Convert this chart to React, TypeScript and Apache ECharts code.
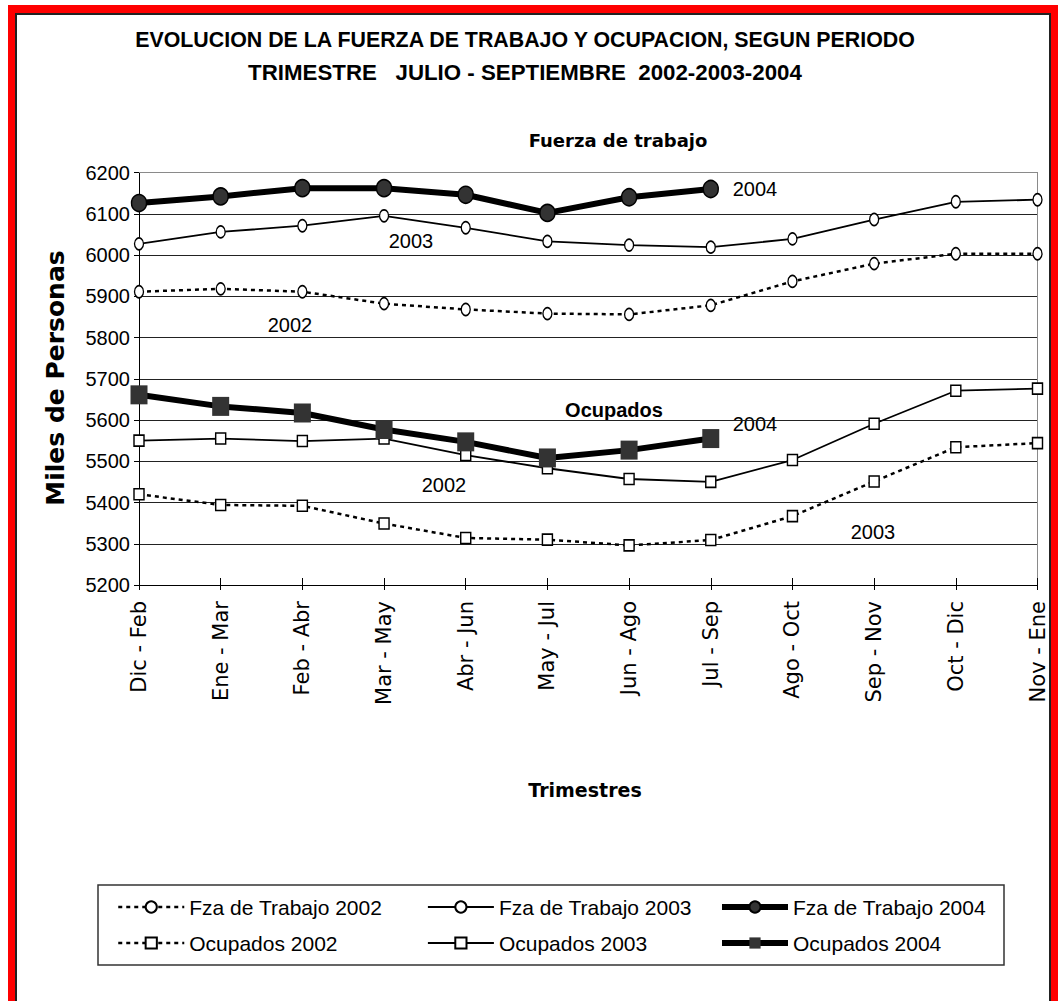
import React, { useEffect, useRef } from "react";
import * as echarts from "echarts";

const categories = [
  "Dic - Feb", "Ene - Mar", "Feb - Abr", "Mar - May", "Abr - Jun", "May - Jul",
  "Jun - Ago", "Jul - Sep", "Ago - Oct", "Sep - Nov", "Oct - Dic", "Nov - Ene",
];
const fza2002 = [5911, 5918, 5911, 5882, 5868, 5858, 5856, 5878, 5936, 5979, 6003, 6003];
const fza2003 = [6027, 6056, 6071, 6095, 6066, 6033, 6024, 6019, 6039, 6086, 6129, 6134];
const fza2004 = [6126, 6142, 6162, 6162, 6146, 6102, 6140, 6160];
const ocu2002 = [5420, 5394, 5392, 5349, 5314, 5310, 5296, 5309, 5367, 5451, 5534, 5544];
const ocu2003 = [5550, 5555, 5549, 5555, 5515, 5483, 5457, 5450, 5503, 5591, 5671, 5676];
const ocu2004 = [5661, 5633, 5617, 5577, 5547, 5508, 5527, 5555];
const yMin = 5200;
const yMax = 6200;
const yStep = 100;

const titleLine1 = "EVOLUCION DE LA FUERZA DE TRABAJO Y OCUPACION, SEGUN PERIODO";
const titleLine2 = "TRIMESTRE   JULIO - SEPTIEMBRE  2002-2003-2004";

const SANS = '"Liberation Sans", Arial, sans-serif';
const DEJAVU = '"DejaVu Sans", sans-serif';

function App() {
  const ref = useRef<HTMLDivElement>(null);

  useEffect(() => {
    if (!ref.current) return;
    const chart = echarts.init(ref.current, null, { renderer: "svg" });

    const whiteMarker = { color: "#ffffff", borderColor: "#000000", borderWidth: 1.5 };
    const dotted = { color: "#000000", width: 2.5, type: [4, 4] as any };
    const thin = { color: "#000000", width: 1.8, type: "solid" as any };
    const thick = { color: "#000000", width: 6, type: "solid" as any };

    const mk = (name: string, data: number[], symbol: string, size: any, line: any, item: any, z: number) => ({
      name,
      type: "line",
      data,
      xAxisIndex: 0,
      yAxisIndex: 0,
      symbol,
      symbolSize: size,
      showAllSymbol: true,
      lineStyle: line,
      itemStyle: item,
      z,
      emphasis: { disabled: true },
    });

    const legendCommon = {
      orient: "vertical",
      itemWidth: 66,
      itemHeight: 14,
      itemGap: 14,
      padding: 0,
      selectedMode: false,
      lineStyle: { width: "inherit", type: "inherit", color: "inherit" },
      textStyle: { fontSize: 21, fontFamily: SANS, color: "#000", lineHeight: 22 },
    };

    const annot = (text: string, x: number, y: number, font: string, extra: any = {}) => ({
      type: "text",
      x,
      y,
      ...extra,
      style: { text, font, fill: "#000", textAlign: "center", textVerticalAlign: "middle" },
    });

    chart.setOption({
      animation: false,
      backgroundColor: "transparent",
      grid: {
        left: 139,
        top: 172.5,
        width: 898.5,
        height: 412.5,
        containLabel: false,
        outerBoundsMode: "none",
      },
      xAxis: [
        {
          type: "category",
          data: categories,
          boundaryGap: false,
          position: "bottom",
          axisLine: { show: true, lineStyle: { color: "#000", width: 1 } },
          axisTick: { show: true, inside: false, length: 5, lineStyle: { color: "#000" } },
          axisLabel: {
            rotate: 90,
            margin: 16,
            fontSize: 21,
            fontFamily: DEJAVU,
            color: "#000",
            interval: 0,
          },
          splitLine: { show: false },
        },
        {
          type: "category",
          data: categories,
          boundaryGap: false,
          position: "bottom",
          axisLine: { show: false },
          axisTick: { show: true, inside: true, length: 7, lineStyle: { color: "#000" } },
          axisLabel: { show: false },
          splitLine: { show: false },
        },
        {
          type: "category",
          data: categories,
          boundaryGap: false,
          position: "top",
          axisLine: { show: true, lineStyle: { color: "#8a8a8a", width: 1 } },
          axisTick: { show: false },
          axisLabel: { show: false },
          splitLine: { show: false },
        },
      ],
      yAxis: [
        {
          type: "value",
          min: yMin,
          max: yMax,
          interval: yStep,
          axisLine: { show: true, lineStyle: { color: "#000", width: 1 } },
          axisTick: { show: true, inside: false, length: 5, lineStyle: { color: "#000" } },
          axisLabel: {
            fontSize: 20,
            fontFamily: SANS,
            color: "#000",
            margin: 9,
            formatter: (v: number) => String(v),
          },
          splitLine: { show: true, lineStyle: { color: "#222", width: 1 } },
        },
        {
          type: "value",
          min: yMin,
          max: yMax,
          interval: yStep,
          position: "right",
          axisLine: { show: true, lineStyle: { color: "#8a8a8a", width: 1 } },
          axisTick: { show: false },
          axisLabel: { show: false },
          splitLine: { show: false },
        },
      ],
      legend: [
        { ...legendCommon, left: 117, top: 896, data: ["Fza de Trabajo 2002", "Ocupados 2002"] },
        { ...legendCommon, left: 427, top: 896, data: ["Fza de Trabajo 2003", "Ocupados 2003"] },
        { ...legendCommon, left: 719, top: 896, data: ["Fza de Trabajo 2004", "Ocupados 2004"] },
      ],
      series: [
        mk("Fza de Trabajo 2002", fza2002, "circle", [9, 12], dotted, whiteMarker, 3),
        mk("Fza de Trabajo 2003", fza2003, "circle", [9, 12], thin, whiteMarker, 4),
        mk("Fza de Trabajo 2004", fza2004, "circle", [15, 17], thick, { color: "#333333", borderColor: "#000", borderWidth: 1.5 }, 5),
        mk("Ocupados 2002", ocu2002, "rect", [10, 11], dotted, whiteMarker, 3),
        mk("Ocupados 2003", ocu2003, "rect", [10, 11], thin, whiteMarker, 4),
        mk("Ocupados 2004", ocu2004, "rect", [17, 19], thick, { color: "#333333", borderColor: "#333333", borderWidth: 0 }, 5),
      ],
      graphic: [
        annot(titleLine1, 525, 39, `bold 23px ${SANS}`, { scaleX: 0.93 }),
        annot(titleLine2, 525, 72, `bold 23px ${SANS}`, { scaleX: 0.97 }),
        annot("Fuerza de trabajo", 618, 140, `bold 18px ${DEJAVU}`),
        annot("2004", 755, 189, `20px ${SANS}`),
        annot("2003", 411, 241, `20px ${SANS}`),
        annot("2002", 290, 325, `20px ${SANS}`),
        annot("Ocupados", 614, 410, `bold 20px ${SANS}`),
        annot("2004", 755, 424, `20px ${SANS}`),
        annot("2002", 444, 485, `20px ${SANS}`),
        annot("2003", 873, 532, `20px ${SANS}`),
        annot("Trimestres", 585, 790, `bold 19px ${DEJAVU}`),
        annot("Miles de Personas", 55, 378, `bold 25px ${DEJAVU}`, { rotation: Math.PI / 2 }),
        {
          type: "rect",
          shape: { x: 98, y: 885, width: 906, height: 80 },
          style: { fill: "none", stroke: "#333", lineWidth: 1.5 },
        },
      ],
    });

    return () => chart.dispose();
  }, []);

  return (
    <div style={{ position: "absolute", left: 0, top: 0, width: 1058, height: 1001, background: "#fff", overflow: "hidden" }}>
      <div style={{ position: "absolute", left: 8, top: 5, width: 1060, height: 1010, background: "#ff0000" }} />
      <div
        style={{
          position: "absolute",
          left: 15,
          top: 13,
          width: 1036,
          height: 1000,
          boxSizing: "border-box",
          border: "2px solid #222",
          background: "#ffffff",
        }}
      />
      <div ref={ref} style={{ position: "absolute", left: 0, top: 0, width: 1058, height: 1001 }} />
    </div>
  );
}

export default App;
